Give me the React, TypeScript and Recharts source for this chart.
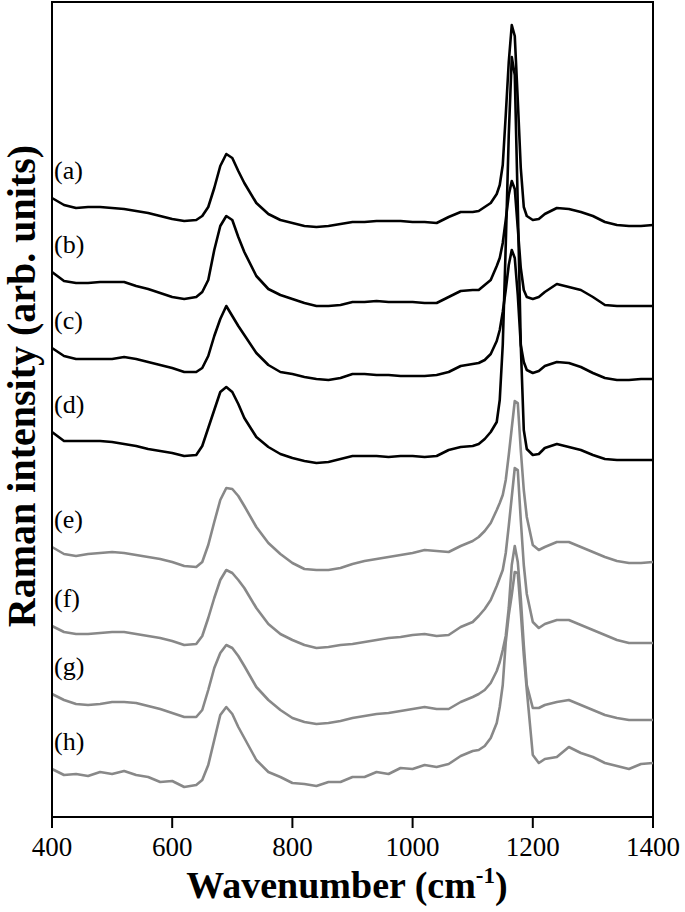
import React from "react";
import { LineChart, Line, XAxis, YAxis, ReferenceArea, ReferenceDot } from "recharts";

// Raman shift grid (cm-1), denser around the sharp band near 1170
const wavenumber = [
  400, 420, 440, 460, 480, 500, 520, 540, 560, 580, 600, 620, 640,
  650, 660, 670, 680, 690, 700, 710, 720,
  740, 760, 780, 800, 820, 840, 860, 880, 900, 920, 940, 960, 980, 1000, 1020, 1040, 1060, 1080, 1100,
  1110, 1120, 1130, 1140,
  1145, 1150, 1155, 1160, 1165, 1170, 1175, 1180, 1185, 1190,
  1200, 1210, 1220,
  1240, 1260, 1280, 1300, 1320, 1340, 1360, 1380, 1400,
];

// stacked spectra, arb. units (offsets already included)
const specA = [
  619, 612, 609, 610, 610, 609, 608, 606, 604, 601, 598, 596, 597,
  601, 610, 629, 651, 663, 659, 646, 634,
  614, 603, 597, 594, 591, 590, 591, 593, 595, 595, 596, 596, 596, 595, 595, 594, 600, 605, 605,
  606, 610, 614, 623,
  632, 652, 702, 755, 792, 781, 717, 649, 610, 601,
  597, 598, 603,
  609, 608, 605, 601, 595, 592, 591, 591, 592,
];
const specB = [
  545, 536, 534, 534, 535, 535, 535, 531, 528, 524, 520, 518, 520,
  525, 537, 567, 591, 601, 597, 580, 565,
  541, 528, 522, 518, 514, 511, 511, 512, 515, 515, 516, 515, 515, 515, 514, 514, 520, 526, 527,
  527, 532, 537, 551,
  559, 574, 597, 622, 636, 628, 589, 549, 527, 520,
  518, 520, 525,
  533, 530, 527, 520, 512, 511, 511, 511, 511,
];
const specC = [
  469, 461, 458, 458, 458, 458, 460, 458, 455, 452, 449, 445, 445,
  449, 461, 481, 498, 511, 501, 491, 482,
  464, 452, 445, 443, 440, 438, 437, 439, 443, 443, 442, 442, 441, 441, 441, 442, 445, 451, 453,
  454, 457, 463, 476,
  487, 505, 527, 552, 567, 559, 522, 472, 455, 447,
  444, 446, 451,
  455, 454, 450, 444, 439, 437, 437, 438, 438,
];
const specD = [
  385, 376, 376, 376, 376, 375, 373, 371, 368, 366, 364, 361, 362,
  371, 389, 407, 425, 430, 425, 413, 399,
  380, 370, 363, 359, 356, 354, 355, 358, 361, 361, 361, 360, 361, 361, 360, 361, 367, 370, 371,
  373, 378, 385, 395,
  417, 472, 572, 682, 760, 742, 612, 472, 387, 368,
  362, 363, 369,
  373, 370, 367, 362, 358, 357, 357, 357, 357,
];
const specE = [
  270, 263, 261, 263, 264, 265, 264, 262, 260, 258, 255, 251, 250,
  255, 272, 295, 317, 329, 328, 321, 311,
  290, 274, 263, 254, 248, 247, 247, 249, 253, 256, 258, 260, 262, 264, 267, 266, 265, 271, 276,
  280, 286, 294, 307,
  314, 322, 337, 362, 389, 416, 414, 367, 327, 300,
  272, 267, 270,
  275, 275, 270, 265, 260, 256, 254, 254, 255,
];
const specF = [
  191, 185, 183, 183, 184, 185, 185, 183, 181, 179, 176, 172, 173,
  181, 199, 219, 237, 247, 244, 237, 229,
  209, 193, 183, 177, 172, 169, 170, 172, 173, 175, 177, 179, 180, 182, 183, 181, 182, 190, 195,
  201, 208, 217, 231,
  239, 247, 264, 291, 320, 349, 347, 297, 252, 223,
  195, 189, 193,
  197, 197, 192, 187, 182, 177, 174, 174, 174,
];
const specG = [
  123, 117, 113, 112, 113, 115, 115, 114, 111, 108, 104, 100, 100,
  107, 127, 149, 164, 172, 169, 161, 151,
  130, 117, 107, 99, 95, 93, 94, 96, 99, 101, 103, 104, 106, 108, 110, 108, 108, 115, 120,
  123, 127, 134, 146,
  155, 167, 181, 209, 252, 271, 255, 219, 172, 132,
  109, 109, 112,
  115, 117, 112, 107, 102, 99, 97, 97, 97,
];
const specH = [
  48, 42, 43, 41, 45, 43, 46, 42, 40, 35, 36, 30, 32,
  37, 52, 77, 102, 110, 103, 90, 79,
  57, 45, 40, 34, 33, 31, 35, 35, 40, 40, 45, 43, 49, 48, 52, 50, 53, 61, 66,
  67, 71, 79, 94,
  110, 132, 175, 202, 222, 245, 244, 205, 162, 127,
  62, 54, 58,
  60, 70, 64, 60, 54, 51, 48, 53, 54,
];

const seriesKeys = ["a", "b", "c", "d", "e", "f", "g", "h"];
const seriesLabels = ["(a)", "(b)", "(c)", "(d)", "(e)", "(f)", "(g)", "(h)"];
const seriesValues = [specA, specB, specC, specD, specE, specF, specG, specH];

const xTicks = [400, 600, 800, 1000, 1200, 1400];

const SERIF = "'Liberation Serif', 'Times New Roman', Times, serif";
const BLACK = "#000000";
const GREY = "#888888";

const data = wavenumber.map((w, i) => {
  const row: Record<string, number> = { w };
  seriesKeys.forEach((k, j) => {
    row[k] = seriesValues[j][i];
  });
  return row;
});

const XTitle = () => (
  <text
    x={347}
    y={898}
    textAnchor="middle"
    fontFamily={SERIF}
    fontWeight="bold"
    fontSize={38}
    fill={BLACK}
  >
    Wavenumber (cm
    <tspan fontSize={23} dy={-15}>-1</tspan>
    <tspan dy={15}>)</tspan>
  </text>
);

const YTitle = () => (
  <text
    x={35}
    y={386}
    transform="rotate(-90, 35, 386)"
    textAnchor="middle"
    fontFamily={SERIF}
    fontWeight="bold"
    fontSize={40}
    fill={BLACK}
  >
    Raman intensity (arb. units)
  </text>
);

const seriesTag = (text: string) => (props: any) => {
  const vb = props.viewBox || { x: 0, y: 0 };
  return (
    <text x={vb.x + 2} y={vb.y} fontFamily={SERIF} fontSize={26} fill={BLACK}>
      {text}
    </text>
  );
};

export default function App() {
  return (
    <div style={{ position: "absolute", left: 0, top: 0, background: "#fff" }}>
      <LineChart
        width={685}
        height={912}
        data={data}
        margin={{ top: 2, right: 32, bottom: 0, left: 0 }}
      >
        <XAxis
          dataKey="w"
          type="number"
          domain={[400, 1400]}
          ticks={xTicks}
          height={95}
          stroke={BLACK}
          strokeWidth={2}
          tickSize={11}
          tickMargin={9}
          tick={{ fill: BLACK, fontSize: 27, fontFamily: SERIF }}
          label={XTitle}
        />
        <YAxis
          type="number"
          domain={[0, 815]}
          width={52}
          tick={false}
          tickLine={false}
          stroke={BLACK}
          strokeWidth={2}
          label={YTitle}
        />
        <ReferenceArea
          x1={400}
          x2={1400}
          y1={0}
          y2={815}
          fill="none"
          stroke={BLACK}
          strokeWidth={2}
          fillOpacity={0}
        />
        {seriesKeys.map((k, j) => (
          <Line
            key={k}
            dataKey={k}
            type="linear"
            stroke={j < 4 ? BLACK : GREY}
            strokeWidth={2.6}
            strokeLinejoin="round"
            dot={false}
            isAnimationActive={false}
          />
        ))}
        {seriesKeys.map((k, j) => (
          <ReferenceDot
            key={"tag-" + k}
            x={400}
            y={seriesValues[j][0] + 19}
            r={0}
            fill="none"
            stroke="none"
            label={seriesTag(seriesLabels[j])}
          />
        ))}
      </LineChart>
    </div>
  );
}
